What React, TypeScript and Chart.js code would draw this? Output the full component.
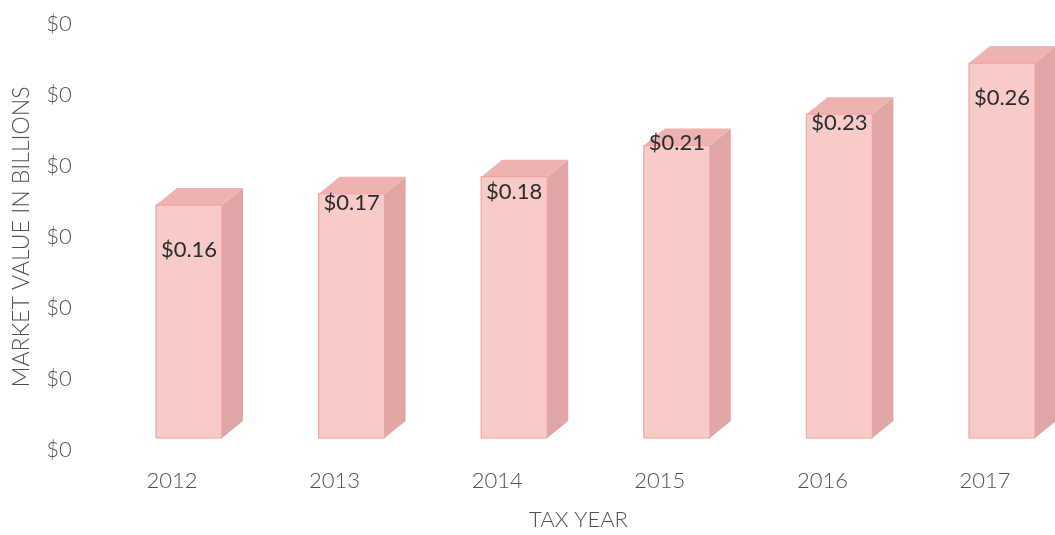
import React, { useEffect, useRef } from "react";
import { Chart, registerables } from "chart.js";

Chart.register(...registerables);

// ---- data ----
const categories = ["2012", "2013", "2014", "2015", "2016", "2017"];
const marketValues = [0.164, 0.172, 0.184, 0.206, 0.228, 0.264];
const yTickValues = [0, 0.05, 0.1, 0.15, 0.2, 0.25, 0.3];
// vertical nudge (px) of each value label relative to the bar's front top edge
const labelNudge = [45, 9, 15, -3, 9, 35];

// ---- style / layout constants ----
const FONT = "Lato, 'Open Sans', sans-serif";
const CANVAS_W = 1067;
const CANVAS_H = 535;
const FRONT_SHIFT_X = 17; // front face offset from category centre
const FRONT_SHIFT_Y = 12; // front plane raised above floor line
const DEPTH_X = 21;
const DEPTH_Y = 17;
const FRONT_COLOR = "#F7CBCA";
const TOP_COLOR = "#EEB2B0";
const SIDE_COLOR = "#DFA6A5";
const EDGE_COLOR = "#F0A3A1";

const bar3dPlugin = {
  id: "bar3d",
  afterDatasetsDraw(chart: any) {
    const ctx = chart.ctx as CanvasRenderingContext2D;
    const meta = chart.getDatasetMeta(0);
    const vals = chart.data.datasets[0].data as number[];
    meta.data.forEach((el: any, i: number) => {
      const { x, y, base, width } = el.getProps(["x", "y", "base", "width"], true);
      const fl = x - width / 2 + FRONT_SHIFT_X;
      const fr = fl + width;
      const ft = y - FRONT_SHIFT_Y;
      const fb = base - FRONT_SHIFT_Y;
      ctx.save();
      ctx.lineJoin = "round";
      // side face
      ctx.beginPath();
      ctx.moveTo(fr, ft);
      ctx.lineTo(fr + DEPTH_X, ft - DEPTH_Y);
      ctx.lineTo(fr + DEPTH_X, fb - DEPTH_Y);
      ctx.lineTo(fr, fb);
      ctx.closePath();
      ctx.fillStyle = SIDE_COLOR;
      ctx.fill();
      // top face
      ctx.beginPath();
      ctx.moveTo(fl, ft);
      ctx.lineTo(fl + DEPTH_X, ft - DEPTH_Y);
      ctx.lineTo(fr + DEPTH_X, ft - DEPTH_Y);
      ctx.lineTo(fr, ft);
      ctx.closePath();
      ctx.fillStyle = TOP_COLOR;
      ctx.fill();
      // front face
      ctx.fillStyle = FRONT_COLOR;
      ctx.fillRect(fl, ft, width, fb - ft);
      ctx.strokeStyle = EDGE_COLOR;
      ctx.lineWidth = 1.2;
      ctx.strokeRect(fl, ft, width, fb - ft);
      // value label
      ctx.fillStyle = "#2b2b2b";
      ctx.font = `22px ${FONT}`;
      ctx.textAlign = "center";
      ctx.textBaseline = "middle";
      ctx.fillText("$" + vals[i].toFixed(2), fl + width / 2, ft + labelNudge[i]);
      ctx.restore();
    });
  },
};

export default function App() {
  const canvasRef = useRef<HTMLCanvasElement | null>(null);

  useEffect(() => {
    document.body.style.margin = "0";
    document.body.style.overflow = "hidden";
    const canvas = canvasRef.current;
    if (!canvas) return;
    const chart = new Chart(canvas, {
      type: "bar",
      data: {
        labels: categories,
        datasets: [
          {
            data: marketValues,
            backgroundColor: "rgba(0,0,0,0)",
            borderWidth: 0,
            categoryPercentage: 1,
            barPercentage: 66 / 162.6,
          },
        ],
      },
      options: {
        responsive: false,
        animation: false,
        devicePixelRatio: 1,
        layout: { padding: { top: 24, right: 0.7, bottom: 0, left: 0 } },
        plugins: {
          legend: { display: false },
          tooltip: { enabled: false },
        },
        scales: {
          x: {
            grid: { display: false, drawTicks: false },
            border: { display: false },
            ticks: {
              color: "#505050",
              font: { family: FONT, size: 22, weight: "300" },
              padding: 18,
            },
            title: {
              display: true,
              text: "TAX YEAR",
              color: "#505050",
              font: { family: FONT, size: 22, weight: "300" },
              padding: { top: 2, bottom: 2 },
            },
            afterFit: (scale: any) => {
              scale.height = 85;
            },
          },
          y: {
            min: 0,
            max: 0.3,
            grid: { display: false, drawTicks: false },
            border: { display: false },
            afterBuildTicks: (scale: any) => {
              scale.ticks = yTickValues.map((v) => ({ value: v }));
            },
            ticks: {
              color: "#505050",
              font: { family: FONT, size: 22, weight: "300" },
              padding: 19,
              callback: (v: any) => "$" + Math.round(Number(v)),
            },
            title: {
              display: true,
              text: "MARKET VALUE IN BILLIONS",
              color: "#505050",
              font: { family: FONT, size: 23, weight: "300" },
              padding: { top: 8, bottom: 0 },
            },
            afterFit: (scale: any) => {
              scale.width = 90.7;
              scale.paddingTop = 0;
              scale.paddingBottom = 0;
            },
          },
        },
      },
      plugins: [bar3dPlugin],
    });
    return () => chart.destroy();
  }, []);

  return (
    <div
      style={{
        position: "fixed",
        left: 0,
        top: 0,
        width: 1055,
        height: CANVAS_H,
        overflow: "hidden",
        background: "#ffffff",
      }}
    >
      <canvas
        ref={canvasRef}
        width={CANVAS_W}
        height={CANVAS_H}
        style={{ width: CANVAS_W, height: CANVAS_H, display: "block" }}
      />
    </div>
  );
}
